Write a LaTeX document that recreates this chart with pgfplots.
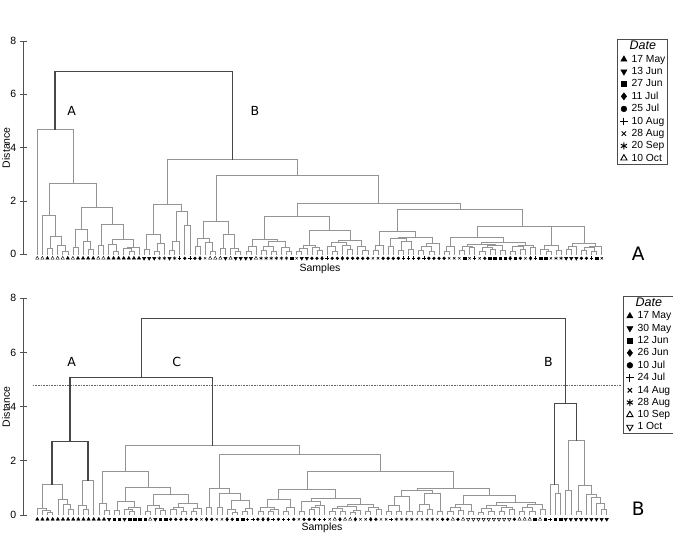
\documentclass[border=0pt]{standalone}
\usepackage{fontspec}
\setmainfont{Liberation Sans}
\newfontfamily\dejavu{DejaVu Sans}
\usepackage{pgfplots}
\pgfplotsset{compat=1.18}
\usepackage{pgfplotstable}

% ---------- TOP dendrogram: merges (left child x, left child height, right child x, right child height, merge height)
\pgfplotstableread{
xl hl xr hr H
3 0 4 0 0.22
6 0 7 0 0.10
5 0 6.5 0.10 0.35
3.5 0.22 5.75 0.35 0.69
2 0 4.625 0.69 1.46
8 0 9 0 0.26
11 0 12 0 0.20
10 0 11.5 0.20 0.50
8.5 0.26 10.75 0.50 0.94
13 0 14 0 0.35
16 0 17 0 0.12
15 0 16.5 0.12 0.38
19 0 20 0 0.12
18 0 19.5 0.12 0.22
18.75 0.22 21 0 0.28
15.75 0.38 19.875 0.28 0.56
13.5 0.35 17.8125 0.56 1.13
9.625 0.94 15.65625 1.13 1.78
3.3125 1.46 12.640625 1.78 2.66
1 0 7.9765625 2.66 4.68
22 0 23 0 0.20
24 0 25 0 0.12
24.5 0.12 26 0 0.41
22.5 0.20 25.25 0.41 0.75
27 0 28 0 0.15
27.5 0.15 29 0 0.50
30 0 31 0 1.10
28.25 0.50 30.5 1.10 1.60
23.875 0.75 29.375 1.60 1.88
32 0 33 0 0.30
35 0 36 0 0.12
34 0 35.5 0.12 0.45
32.5 0.30 34.75 0.45 0.60
37 0 38 0 0.24
40 0 41 0 0.12
39 0 40.5 0.12 0.24
37.5 0.24 39.75 0.24 0.75
33.625 0.60 38.625 0.75 1.25
42 0 43 0 0.10
42.5 0.10 44 0 0.30
45 0 46 0 0.15
47 0 48 0 0.10
45.5 0.15 47.5 0.10 0.30
50 0 51 0 0.12
49 0 50.5 0.12 0.25
46.5 0.30 49.75 0.25 0.50
43.25 0.30 48.125 0.50 0.57
52 0 53 0 0.12
52.5 0.12 54 0 0.22
56 0 57 0 0.15
55 0 56.5 0.15 0.25
53.25 0.22 55.75 0.25 0.35
59 0 60 0 0.12
58 0 59.5 0.12 0.30
62 0 63 0 0.20
61 0 62.5 0.20 0.35
58.75 0.30 61.75 0.35 0.45
65 0 66 0 0.15
64 0 65.5 0.15 0.30
60.25 0.45 64.75 0.30 0.54
54.5 0.35 62.5 0.54 0.91
45.6875 0.57 58.5 0.91 1.41
67 0 68 0 0.15
67.5 0.15 69 0 0.33
70 0 71 0 0.30
72 0 73 0 0.15
74 0 75 0 0.20
72.5 0.15 74.5 0.20 0.50
70.5 0.30 73.5 0.50 0.60
76 0 77 0 0.15
78 0 79 0 0.12
76.5 0.15 78.5 0.12 0.30
77.5 0.30 80 0 0.40
72 0.60 78.75 0.40 0.63
68.25 0.33 75.375 0.63 0.87
81 0 82 0 0.12
81.5 0.12 83 0 0.30
84 0 85 0 0.15
86 0 87 0 0.25
84.5 0.15 86.5 0.25 0.30
88 0 89 0 0.12
90 0 91 0 0.20
88.5 0.12 90.5 0.20 0.28
92 0 93 0 0.15
89.5 0.28 92.5 0.15 0.32
85.5 0.30 91 0.32 0.36
94 0 95 0 0.12
96 0 97 0 0.20
94.5 0.12 96.5 0.20 0.30
98 0 99 0 0.25
95.5 0.30 98.5 0.25 0.33
88.25 0.36 97 0.33 0.45
82.25 0.30 92.625 0.45 0.64
101 0 102 0 0.12
100 0 101.5 0.12 0.20
103 0 104 0 0.15
100.75 0.20 103.5 0.15 0.35
105 0 106 0 0.20
105.5 0.20 107 0 0.30
108 0 109 0 0.15
110 0 111 0 0.12
108.5 0.15 110.5 0.12 0.25
109.5 0.25 112 0 0.30
106.25 0.30 110.75 0.30 0.43
102.125 0.35 108.5 0.43 1.04
87.4375 0.64 105.3125 1.04 1.06
71.8125 0.87 96.375 1.06 1.70
52.09375 1.41 84.09375 1.70 1.91
36.125 1.25 68.09375 1.91 2.97
26.625 1.88 52.109375 2.97 3.56
}\topLight
\pgfplotstableread{
xl hl xr hr H
4.48828125 4.68 39.3671875 3.56 6.87
}\topDark

% ---------- BOTTOM dendrogram
\pgfplotstableread{
xl hl xr hr H
3 0 4 0 0.10
2 0 3.5 0.10 0.16
1 0 2.75 0.16 0.23
7 0 8 0 0.22
6 0 7.5 0.22 0.40
5 0 6.75 0.40 0.59
1.875 0.23 5.875 0.59 1.14
10 0 11 0 0.20
9 0 10.5 0.20 0.35
9.75 0.35 12 0 1.29
14 0 15 0 0.16
13 0 14.5 0.16 0.42
16 0 17 0 0.18
19 0 20 0 0.12
18 0 19.5 0.12 0.20
18.75 0.20 21 0 0.30
16.5 0.18 19.875 0.30 0.49
22 0 23 0 0.12
25 0 26 0 0.18
24 0 25.5 0.18 0.25
22.5 0.12 24.75 0.25 0.35
27 0 28 0 0.20
29 0 30 0 0.15
27.5 0.20 29.5 0.15 0.30
31 0 32 0 0.15
31.5 0.15 33 0 0.25
28.5 0.30 32.25 0.25 0.45
23.625 0.35 30.375 0.45 0.76
18.1875 0.49 27 0.76 1.02
13.75 0.42 22.59375 1.02 1.62
34 0 35 0 0.30
36 0 37 0 0.29
39 0 40 0 0.10
38 0 39.5 0.10 0.20
41 0 42 0 0.12
41.5 0.12 43 0 0.25
38.75 0.20 42.25 0.25 0.55
36.5 0.29 40.5 0.55 0.80
34.5 0.30 38.5 0.80 0.98
44 0 45 0 0.15
46 0 47 0 0.12
46.5 0.12 48 0 0.20
44.5 0.15 47.25 0.20 0.30
49 0 50 0 0.12
49.5 0.12 51 0 0.30
45.875 0.30 50.25 0.30 0.58
52 0 53 0 0.15
54 0 55 0 0.20
54.5 0.20 56 0 0.30
55.25 0.30 57 0 0.35
52.5 0.15 56.125 0.35 0.50
58 0 59 0 0.12
60 0 61 0 0.15
58.5 0.12 60.5 0.15 0.25
62 0 63 0 0.10
62.5 0.10 64 0 0.18
59.5 0.25 63.25 0.18 0.33
65 0 66 0 0.15
67 0 68 0 0.20
65.5 0.15 67.5 0.20 0.30
61.375 0.33 66.5 0.30 0.41
54.3125 0.50 63.9375 0.41 0.62
48.0625 0.58 59.125 0.62 0.95
69 0 70 0 0.15
71 0 72 0 0.12
69.5 0.15 71.5 0.12 0.35
73 0 74 0 0.15
70.5 0.35 73.5 0.15 0.68
75 0 76 0 0.12
77 0 78 0 0.20
75.5 0.12 77.5 0.20 0.40
79 0 80 0 0.15
76.5 0.40 79.5 0.15 0.80
72 0.68 78 0.80 0.90
81 0 82 0 0.12
83 0 84 0 0.18
81.5 0.12 83.5 0.18 0.30
85 0 86 0 0.15
82.5 0.30 85.5 0.15 0.41
87 0 88 0 0.10
89 0 90 0 0.15
87.5 0.10 89.5 0.15 0.25
91 0 92 0 0.12
93 0 94 0 0.20
91.5 0.12 93.5 0.20 0.30
88.5 0.25 92.5 0.30 0.35
95 0 96 0 0.15
97 0 98 0 0.12
95.5 0.15 97.5 0.12 0.30
99 0 100 0 0.20
96.5 0.30 99.5 0.20 0.38
90.5 0.35 98 0.38 0.46
84 0.41 94.25 0.46 0.74
75 0.90 89.125 0.74 0.98
53.59375 0.95 82.0625 0.98 1.62
36.5 0.98 67.828125 1.62 2.25
18.171875 1.62 52.1640625 2.25 2.57
102 0 103 0 0.82
101 0 102.5 0.82 1.14
104 0 105 0 0.92
106 0 107 0 0.12
111 0 112 0 0.22
110 0 111.5 0.22 0.45
109 0 110.75 0.45 0.65
108 0 109.875 0.65 0.78
106.5 0.12 108.9375 0.78 1.11
104.5 0.92 107.71875 1.11 2.74
}\botLight
\pgfplotstableread{
xl hl xr hr H
3.875 1.14 10.875 1.29 2.70
7.375 2.70 35.16796875 2.57 5.07
101.75 1.14 106.109375 2.74 4.10
21.271484375 5.07 103.9296875 4.10 7.24
}\botDark

% ---------- leaf classes (sample date of each leaf)
\pgfplotstableread{
k c
1 8
2 8
3 0
4 8
5 8
6 8
7 0
8 8
9 0
10 0
11 0
12 0
13 8
14 8
15 0
16 0
17 0
18 0
19 0
20 0
21 0
22 1
23 1
24 1
25 7
26 7
27 1
28 7
29 5
30 4
31 5
32 4
33 3
34 6
35 8
36 8
37 8
38 1
39 8
40 1
41 1
42 1
43 1
44 8
45 7
46 7
47 7
48 7
49 7
50 7
51 2
52 6
53 1
54 1
55 4
56 4
57 3
58 5
59 4
60 4
61 3
62 4
63 4
64 4
65 4
66 4
67 6
68 6
69 4
70 4
71 4
72 4
73 5
74 5
75 5
76 4
77 5
78 4
79 4
80 4
81 4
82 6
83 6
84 6
85 2
86 6
87 5
88 6
89 4
90 2
91 2
92 2
93 2
94 3
95 2
96 4
97 6
98 3
99 5
100 2
101 2
102 6
103 7
104 7
105 1
106 1
107 1
108 4
109 4
110 5
111 2
112 6
}\topLeaves
\pgfplotstableread{
k c
1 0
2 0
3 0
4 0
5 0
6 0
7 0
8 0
9 0
10 0
11 0
12 0
13 0
14 0
15 1
16 2
17 2
18 1
19 2
20 2
21 2
22 2
23 8
24 1
25 2
26 2
27 4
28 4
29 4
30 4
31 4
32 4
33 6
34 3
35 4
36 6
37 6
38 3
39 4
40 2
41 2
42 5
43 5
44 4
45 3
46 3
47 5
48 4
49 5
50 5
51 4
52 6
53 4
54 4
55 4
56 5
57 5
58 6
59 8
60 3
61 8
62 8
63 3
64 6
65 6
66 3
67 4
68 6
69 6
70 5
71 7
72 7
73 7
74 7
75 6
76 6
77 7
78 7
79 6
80 4
81 4
82 8
83 4
84 8
85 9
86 9
87 9
88 9
89 9
90 9
91 9
92 9
93 9
94 4
95 8
96 8
97 8
98 2
99 8
100 2
101 5
102 2
103 2
104 1
105 1
106 1
107 1
108 1
109 1
110 1
111 1
112 1
}\botLeaves

\pgfplotsset{
  dendro/.style={
    scale only axis, width=596.7pt, clip=false,
    axis x line=none, axis y line=left,
    axis line style={-, draw=black!68, line width=0.9pt},
    ymin=0, ymax=8, ytick={0,2,4,6,8},
    tick align=center, major tick length=7pt,
    tick style={draw=black!68, line width=0.9pt},
    yticklabel style={font=\fontsize{10.5}{12}\selectfont, text=black},
    /pgf/number format/assume math mode=true,
    legend cell align=left,
    legend style={anchor=north west, draw=black!70, line width=0.6pt,
      font=\fontsize{10.3}{12}\selectfont, inner xsep=1.8pt, inner ysep=1.2pt,
      row sep=2.4pt, nodes={inner sep=0.6pt},
      /tikz/every odd column/.append style={column sep=2.6pt},
      /tikz/every even column/.append style={column sep=0pt}},
  },
  lf/.style={only marks, black, line width=0.45pt,
    legend image code/.code={\path (0pt,-1pt) (8pt,1pt); \draw[##1] plot coordinates {(4pt,0pt)};}},
  cls/.style={restrict expr to domain={abs(\thisrow{c}-#1)}{0:0.5}},
  lightU/.style={forget plot, draw=black!42, line width=0.55pt, line cap=rect},
  darkU/.style={forget plot, draw=black!72, line width=1.1pt, line cap=rect},
}

\newcommand{\dendro}[2]{%
  \addplot[#2, quiver={u={\thisrow{xr}-\thisrow{xl}}, v=0}] table[x=xl, y=H] {#1};
  \addplot[#2, quiver={u=0, v={\thisrow{hl}-\thisrow{H}}}] table[x=xl, y=H] {#1};
  \addplot[#2, quiver={u=0, v={\thisrow{hr}-\thisrow{H}}}] table[x=xr, y=H] {#1};
}

\begin{document}
\begin{tikzpicture}
\useasboundingbox (0pt,0pt) rectangle (673pt,534pt);

% ================= TOP PANEL =================
\begin{axis}[dendro, at={(23.3pt,279.7pt)}, anchor=south west, height=213.3pt,
  xmin=-1.753, xmax=115.59, legend style={at={(0.9955,1.008)}}]
\addlegendimage{empty legend}
\addlegendentry{\hspace{-2pt}\fontsize{12.5}{13}\selectfont\itshape Date}
\addplot[lf, cls=0, mark=triangle*, mark size=1.9pt, legend image post style={mark size=3.6pt}] table[x=k, y expr=-0.15] {\topLeaves};
\addlegendentry{17 May}
\addplot[lf, cls=1, mark=triangle*, mark options={rotate=180}, mark size=1.9pt, legend image post style={mark size=3.6pt}] table[x=k, y expr=-0.15] {\topLeaves};
\addlegendentry{13 Jun}
\addplot[lf, cls=2, mark=square*, mark size=1.3pt, legend image post style={mark size=2.8pt}] table[x=k, y expr=-0.15] {\topLeaves};
\addlegendentry{27 Jun}
\addplot[lf, cls=3, mark=diamond*, mark size=1.8pt, legend image post style={mark size=3.6pt}] table[x=k, y expr=-0.15] {\topLeaves};
\addlegendentry{11 Jul}
\addplot[lf, cls=4, mark=*, mark size=1.4pt, legend image post style={mark size=2.9pt}] table[x=k, y expr=-0.15] {\topLeaves};
\addlegendentry{25 Jul}
\addplot[lf, cls=5, mark=+, mark size=1.8pt, legend image post style={mark size=3.8pt, line width=1pt}] table[x=k, y expr=-0.15] {\topLeaves};
\addlegendentry{10 Aug}
\addplot[lf, cls=6, mark=x, mark size=1.6pt, legend image post style={mark size=3.1pt, line width=1pt}] table[x=k, y expr=-0.15] {\topLeaves};
\addlegendentry{28 Aug}
\addplot[lf, cls=7, mark=asterisk, mark size=1.8pt, legend image post style={mark size=3.5pt, line width=1pt}] table[x=k, y expr=-0.15] {\topLeaves};
\addlegendentry{20 Sep}
\addplot[lf, cls=8, mark=triangle, mark size=1.9pt, legend image post style={mark size=3.6pt, line width=0.9pt}] table[x=k, y expr=-0.15] {\topLeaves};
\addlegendentry{10 Oct}
\dendro{\topLight}{lightU}
\dendro{\topDark}{darkU}
\end{axis}

% ================= BOTTOM PANEL =================
\begin{axis}[dendro, at={(23.3pt,19pt)}, anchor=south west, height=216.7pt,
  xmin=-1.729, xmax=114.59, legend style={at={(1.0055,1.0106)}}]
\addlegendimage{empty legend}
\addlegendentry{\hspace{-2pt}\fontsize{12.5}{13}\selectfont\itshape Date}
\addplot[lf, cls=0, mark=triangle*, mark size=1.9pt, legend image post style={mark size=3.6pt}] table[x=k, y expr=-0.16] {\botLeaves};
\addlegendentry{17 May}
\addplot[lf, cls=1, mark=triangle*, mark options={rotate=180}, mark size=1.9pt, legend image post style={mark size=3.6pt}] table[x=k, y expr=-0.16] {\botLeaves};
\addlegendentry{30 May}
\addplot[lf, cls=2, mark=square*, mark size=1.3pt, legend image post style={mark size=2.8pt}] table[x=k, y expr=-0.16] {\botLeaves};
\addlegendentry{12 Jun}
\addplot[lf, cls=3, mark=diamond*, mark size=1.8pt, legend image post style={mark size=3.6pt}] table[x=k, y expr=-0.16] {\botLeaves};
\addlegendentry{26 Jun}
\addplot[lf, cls=4, mark=*, mark size=1.4pt, legend image post style={mark size=2.9pt}] table[x=k, y expr=-0.16] {\botLeaves};
\addlegendentry{10 Jul}
\addplot[lf, cls=5, mark=+, mark size=1.8pt, legend image post style={mark size=3.8pt, line width=1pt}] table[x=k, y expr=-0.16] {\botLeaves};
\addlegendentry{24 Jul}
\addplot[lf, cls=6, mark=x, mark size=1.6pt, legend image post style={mark size=3.1pt, line width=1pt}] table[x=k, y expr=-0.16] {\botLeaves};
\addlegendentry{14 Aug}
\addplot[lf, cls=7, mark=asterisk, mark size=1.8pt, legend image post style={mark size=3.5pt, line width=1pt}] table[x=k, y expr=-0.16] {\botLeaves};
\addlegendentry{28 Aug}
\addplot[lf, cls=8, mark=triangle, mark size=1.9pt, legend image post style={mark size=3.6pt, line width=0.9pt}] table[x=k, y expr=-0.16] {\botLeaves};
\addlegendentry{10 Sep}
\addplot[lf, cls=9, mark=triangle, mark options={rotate=180}, mark size=1.9pt, legend image post style={mark size=3.6pt, line width=0.9pt}] table[x=k, y expr=-0.16] {\botLeaves};
\addlegendentry{1 Oct}
\addplot[forget plot, densely dotted, draw=black!60, line width=0.6pt] coordinates {(0.16,4.8) (114.9,4.8)};
\dendro{\botLight}{lightU}
\dendro{\botDark}{darkU}
\end{axis}

% ================= labels =================
\node[font=\fontsize{10.5}{12}\selectfont, rotate=90] at (6pt,386.4pt) {Distance};
\node[font=\fontsize{10.5}{12}\selectfont] at (320pt,265.5pt) {Samples};
\node[font=\dejavu\fontsize{12.5}{14}\selectfont] at (71.7pt,423pt) {A};
\node[font=\dejavu\fontsize{12.5}{14}\selectfont] at (255pt,423pt) {B};
\node[font=\dejavu\fontsize{18.5}{20}\selectfont] at (638.3pt,280.7pt) {A};

\node[font=\fontsize{10.5}{12}\selectfont, rotate=90] at (6pt,127.3pt) {Distance};
\node[font=\fontsize{10.5}{12}\selectfont] at (322pt,6.7pt) {Samples};
\node[font=\dejavu\fontsize{12.5}{14}\selectfont] at (71.7pt,172.3pt) {A};
\node[font=\dejavu\fontsize{12.5}{14}\selectfont] at (176.7pt,172.3pt) {C};
\node[font=\dejavu\fontsize{12.5}{14}\selectfont] at (548.3pt,172.3pt) {B};
\node[font=\dejavu\fontsize{18.5}{20}\selectfont] at (638.3pt,25.7pt) {B};
\end{tikzpicture}
\end{document}
